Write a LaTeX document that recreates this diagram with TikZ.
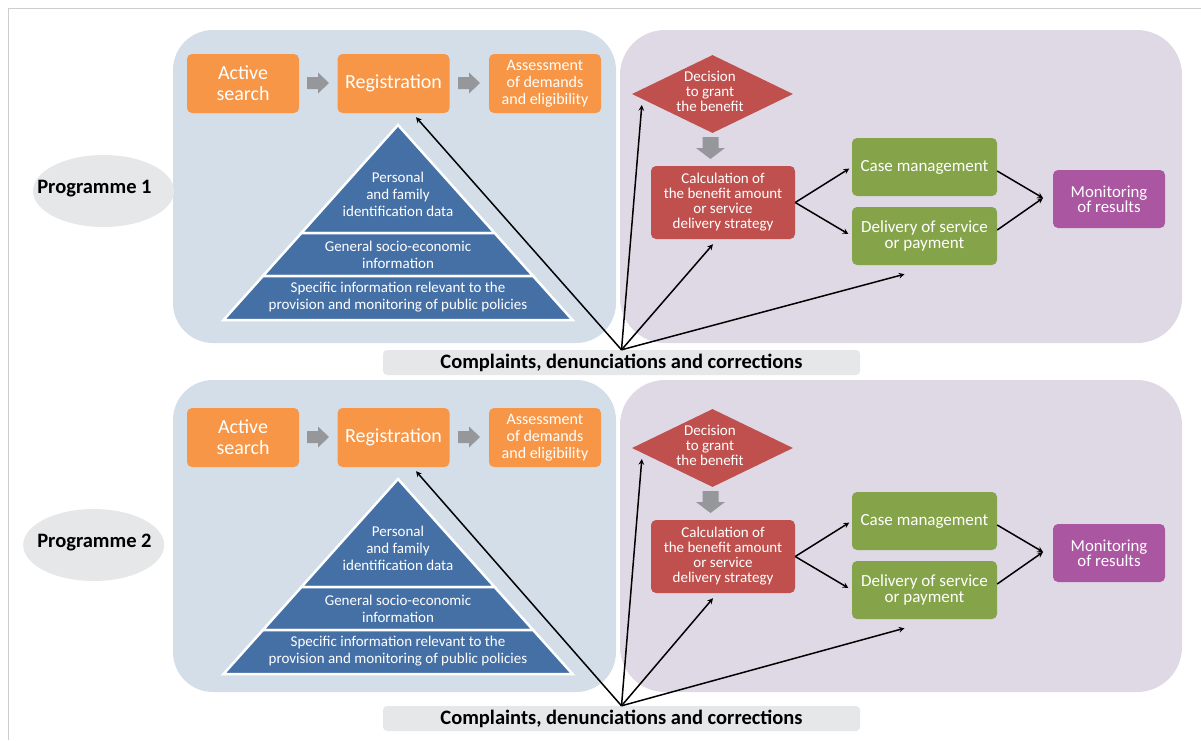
\documentclass[tikz,border=0pt]{standalone}
\usepackage{fontspec}
\setmainfont{Carlito}
\usepackage{tikz}
\usetikzlibrary{shapes.geometric}

\definecolor{paneblue}{RGB}{211,222,233}
\definecolor{panepurple}{RGB}{223,217,229}
\definecolor{boxorange}{RGB}{247,150,70}
\definecolor{pyrblue}{RGB}{69,112,166}
\definecolor{boxred}{RGB}{192,80,77}
\definecolor{boxgreen}{RGB}{133,164,74}
\definecolor{boxpurple}{RGB}{170,86,160}
\definecolor{arrgrey}{RGB}{150,151,155}
\definecolor{labgrey}{RGB}{230,231,232}
\definecolor{framegrey}{RGB}{205,205,205}

\newcommand{\rightblock}[1]{\fill[arrgrey] (#1) ++(0,-6) -- ++(11,0) -- ++(0,-4.5) -- ++(11,10.5) -- ++(-11,10.5) -- ++(0,-4.5) -- ++(-11,0) -- cycle;}
\newcommand{\downblock}[1]{\fill[arrgrey] (#1) ++(-8,0) -- ++(0,11) -- ++(-6.5,0) -- ++(14.5,11) -- ++(14.5,-11) -- ++(-6.5,0) -- ++(0,-11) -- cycle;}

\begin{document}
\begin{tikzpicture}[x=1pt,y=-1pt,
box/.style={rounded corners=5pt,text=white,align=center,inner sep=0pt},
orangebox/.style={box,fill=boxorange,minimum width=112pt,minimum height=59pt},
redbox/.style={box,fill=boxred,minimum width=144pt,minimum height=73pt,font=\fontsize{15}{15}\selectfont},
greenbox/.style={box,fill=boxgreen,minimum width=145pt,minimum height=58pt,font=\fontsize{17}{16}\selectfont},
pyrtext/.style={text=white,align=center,inner sep=0pt,font=\fontsize{15}{17}\selectfont},
pyrtier/.style={fill=pyrblue,draw=white,line width=2.5pt},
link/.style={->,>=stealth,line width=1.5pt},
proglabel/.style={ellipse,fill=labgrey,minimum width=141pt,minimum height=72pt},
boldlabel/.style={inner sep=0pt,font=\fontsize{20.5}{20.5}\selectfont\bfseries}]
\useasboundingbox (0,0) rectangle (1201,740);
\draw[framegrey,line width=1pt] (8,740) -- (8,8) -- (1201,8);
\foreach \r/\ex/\dy/\pt/\pb/\cy in {1/103.5/0/30/343/362.5,2/93.7/354/26/338/364.5}{
\begin{scope}[yshift=-\dy pt]
% panels
\fill[paneblue,rounded corners=40pt] (173,\pt) rectangle (616,\pb);
\fill[panepurple,rounded corners=45pt] (620,\pt) rectangle (1182,\pb);
\node[proglabel] (prog\r) at (\ex,191) {};
\node[boldlabel] (progtext\r) at (94.5,189) {Programme \r};
% registration row
\node[orangebox,font=\fontsize{20}{21}\selectfont] (act\r) at (243,83.5) {Active\\search};
\node[orangebox,font=\fontsize{20}{20}\selectfont] (reg\r) at (393.5,83.5) {Registration};
\node[orangebox,font=\fontsize{16}{17}\selectfont] (ass\r) at (545,83.5) {Assessment\\of demands\\and eligibility};
\rightblock{307,83}
\rightblock{458,83}
% pyramid
\filldraw[pyrtier] (398,125) -- (494.6,233) -- (301.4,233) -- cycle;
\filldraw[pyrtier] (301.4,233) -- (494.6,233) -- (533.1,276) -- (262.9,276) -- cycle;
\filldraw[pyrtier] (262.9,276) -- (533.1,276) -- (572.5,320) -- (223.5,320) -- cycle;
\node[pyrtext] (pyr1\r) at (398,194) {Personal\\and family\\identification data};
\node[pyrtext] (pyr2\r) at (398,254.5) {General socio-economic\\information};
\node[pyrtext] (pyr3\r) at (398,297) {Specific information relevant to the\\provision and monitoring of public policies};
% benefit side
\node[diamond,fill=boxred,inner sep=0pt,aspect=2.06,minimum width=161pt,minimum height=78pt] (dec\r) at (712.5,94) {};
\node[text=white,align=center,inner sep=0pt,font=\fontsize{15}{15}\selectfont] (dectext\r) at (710,91) {Decision\\to grant\\the benefit};
\downblock{710.5,137}
\node[redbox] (calc\r) at (723,202.5) {Calculation of\\the benefit amount\\or service\\delivery strategy};
\node[greenbox] (case\r) at (924.5,167) {Case management};
\node[greenbox] (deliv\r) at (924.5,236) {Delivery of service\\or payment};
\node[box,fill=boxpurple,minimum width=112pt,minimum height=58pt,font=\fontsize{16.8}{15}\selectfont] (mon\r) at (1109,199) {Monitoring\\of results};
\coordinate (mj\r) at (1043,198);
\draw[link,shorten >=3pt] (calc\r.east) -- (case\r.west);
\draw[link,shorten >=4pt] (calc\r.east) -- (deliv\r.west);
\draw[link] ([yshift=-4pt]case\r.east) -- (mj\r);
\draw[link] ([yshift=6pt]deliv\r.east) -- (mj\r);
% complaints
\node[boldlabel,fill=labgrey,rounded corners=4pt,minimum width=477pt,minimum height=25pt] (comp\r) at (621.5,\cy) {Complaints, denunciations and corrections};
\draw[link] (comp\r.north) -- ([xshift=22.5pt,yshift=-4pt]reg\r.south);
\draw[link] (comp\r.north) -- ([xshift=10pt,yshift=-11pt]dec\r.west);
\draw[link] (comp\r.north) -- ([xshift=-10pt,yshift=-5pt]calc\r.south);
\draw[link] (comp\r.north) -- ([xshift=-20pt,yshift=-9pt]deliv\r.south);
\end{scope}
}
\end{tikzpicture}
\end{document}
